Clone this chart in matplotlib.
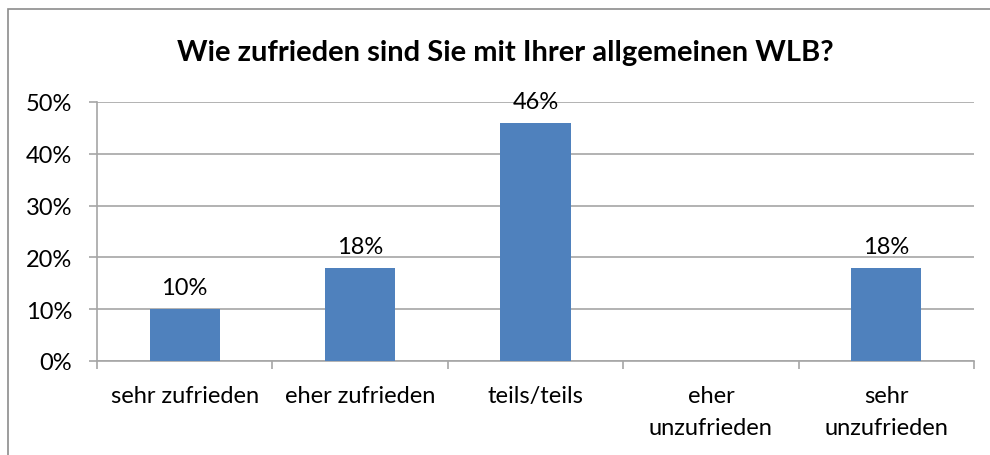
import matplotlib

matplotlib.use("Agg")
import matplotlib.pyplot as plt
from matplotlib.patches import Rectangle
from matplotlib.ticker import PercentFormatter

plt.rcParams["font.family"] = ["Lato", "DejaVu Sans"]

CATEGORIES = ["sehr zufrieden", "eher zufrieden", "teils/teils",
              "eher\nunzufrieden", "sehr\nunzufrieden"]
SHARES = [10, 18, 46, 0, 18]
LABELS = ["10%", "18%", "46%", "", "18%"]
Y_TICKS = [0, 10, 20, 30, 40, 50]
TITLE = "Wie zufrieden sind Sie mit Ihrer allgemeinen WLB?"

BAR = "#4F81BD"
GRID = "#A6A6A6"

fig = plt.figure(figsize=(9.9, 4.56), dpi=100)
# plot area in pixels: x 97..974, y 103..362
W, H = 990, 456
ax = fig.add_axes([97 / W, 1 - 362 / H, (974 - 97) / W, (362 - 103) / H])

x = range(len(CATEGORIES))
ax.bar(x, SHARES, width=0.4, color=BAR, zorder=3)
for xi, v, lab in zip(x, SHARES, LABELS):
    if lab:
        ax.annotate(lab, (xi, v), xytext=(0, 8), textcoords="offset points",
                    ha="center", va="bottom", fontsize=17, color="black", zorder=4)

ax.set_xlim(-0.5, len(CATEGORIES) - 0.5)
ax.set_ylim(0, 50)
ax.set_yticks(Y_TICKS)
ax.yaxis.set_major_formatter(PercentFormatter(decimals=0))
ax.grid(axis="y", color=GRID, lw=1.2, zorder=0)

ax.set_xticks(x)
ax.set_xticklabels(CATEGORIES, fontsize=17, linespacing=1.65)
ax.set_xticks([i - 0.5 for i in range(len(CATEGORIES) + 1)], minor=True)
ax.tick_params(axis="x", which="major", length=0, pad=17)
ax.tick_params(axis="x", which="minor", length=6, color=GRID, width=1.2)
ax.tick_params(axis="y", length=6, color=GRID, width=1.2, labelsize=17, pad=12)

for side in ("top", "right"):
    ax.spines[side].set_visible(False)
for side in ("left", "bottom"):
    ax.spines[side].set_color(GRID)
    ax.spines[side].set_linewidth(1.2)

fig.text(505 / W, 1 - 53 / H, TITLE, ha="center", va="center",
         fontsize=21, fontweight="bold")

# chart frame, runs off the right and bottom edges
fig.add_artist(Rectangle((8 / W, -0.05), 1.2, 1 - 10 / H + 0.05,
                         transform=fig.transFigure, fill=False,
                         edgecolor="#8C8C8C", lw=1.2))

fig.savefig("out.png", dpi=100)
